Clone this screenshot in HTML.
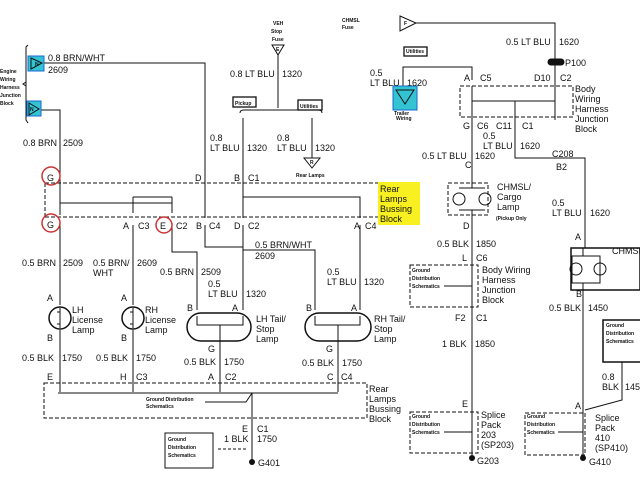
<!DOCTYPE html>
<html><head><meta charset="utf-8"><style>
html,body{margin:0;padding:0;background:#fff;}
svg{display:block;}
text{font-family:"Liberation Sans",sans-serif;font-size:9px;fill:#111;}
.s text{font-size:5px;font-weight:bold;}
</style></head><body>
<svg width="640" height="480" viewBox="0 0 640 480" xmlns="http://www.w3.org/2000/svg">
<g stroke="#111" stroke-width="1" fill="none">
<path d="M28,45 L26,47 L26,120 L28,123"/>
<path d="M26,82 L23,84 L26,86"/>
<path d="M44,63 H205 V218"/>
<path d="M41,110 H60 V215"/>
<path d="M45,183 H380 M45,217 H380 M45,183 V217" stroke-dasharray="4,2"/>
<path d="M60,203 H172 M133,197 H172 M133,197 V213 M172,197 V213"/>
<path d="M243,197 H360 V218"/>
<path d="M243,118 V218"/>
<path d="M278,55 V108 M240,113 Q240,110 244,110 H318 Q322,110 322,113"/>
<path d="M312,118 V158"/>
<path d="M272,45 H284 L278,55 Z"/>
<path d="M304,158 H320 L312,168 Z"/>
<rect x="233" y="97" width="23" height="10" stroke-width="1.3"/>
<rect x="298" y="100" width="24" height="10" stroke-width="1.3"/>
<path d="M60,225 V305 M60,330 V392"/>
<path d="M133,225 V305 M133,330 V392"/>
<path d="M172,225 V252 H197 V310"/>
<path d="M243,225 V310"/>
<path d="M205,225 V247 H243 M243,250 H315 V310"/>
<path d="M360,225 V310"/>
<circle cx="60" cy="318" r="11" stroke-width="1.5"/>
<circle cx="133" cy="318" r="11" stroke-width="1.5"/>
<path d="M60,308 V312 H57 M60,312 V324 H57 M60,324 V328 M133,308 V312 H130 M133,312 V324 H130 M133,324 V328"/>
<rect x="187" y="313" width="64" height="28" rx="14" stroke-width="1.5"/>
<rect x="305" y="313" width="66" height="28" rx="14" stroke-width="1.5"/>
<path d="M197,316 V325 H243 V316 M220,325 V345"/>
<path d="M315,316 V325 H360 V316 M338,325 V345"/>
<path d="M220,345 V392 M338,345 V392"/>
<path d="M44,383 H367 V418 H44 Z" stroke-dasharray="4,2"/>
<path d="M58,393 H338 M252,393 V460 M252,393 L246,402 H205"/>
<rect x="165" y="433" width="48" height="35"/>
<path d="M218,449 H248" stroke-dasharray="3,2"/>
<path d="M400,16 L416,23 L400,31 Z"/>
<path d="M416,23 H555 V120"/>
<rect x="548" y="59" width="16" height="6" rx="3" fill="#111"/>
<path d="M460,86 H573 V117 H460 Z" stroke-dasharray="4,2"/>
<path d="M472,101 H555 M515,101 V158 H585 V248"/>
<path d="M403,87 V67 H472 V80"/>
<path d="M472,86 V170"/>
<rect x="404" y="47" width="23" height="9" stroke-width="1.3"/>
<path d="M448,183 H488 V215 H448 Z" stroke-dasharray="4,2"/>
<path d="M472,170 V188 M459,188 H485 M459,210 H485 M472,210 V258"/>
<circle cx="459" cy="199" r="6"/><circle cx="485" cy="199" r="6"/>
<path d="M410,265 H478 V307 H410 Z" stroke-dasharray="4,2"/>
<path d="M472,258 V455 M444,286 H472 M444,432 H472"/>
<path d="M410,412 H478 V453 H410 Z" stroke-dasharray="4,2"/>
<rect x="571" y="248" width="69" height="42" stroke-width="1.5"/>
<path d="M583,248 V256 H572 V283 H583 M583,256 H600 V283 H583 M583,283 V460"/>
<circle cx="576" cy="269" r="6"/><circle cx="600" cy="269" r="6"/>
<rect x="603" y="320" width="40" height="42" stroke-width="1.5"/>
<path d="M622,362 V400 L585,410"/>
<path d="M525,413 H585 V455 H525 Z" stroke-dasharray="4,2"/>
<path d="M558,432 H583"/>
<g stroke="#c33" stroke-width="1.5">
<circle cx="51" cy="176" r="9"/><circle cx="51" cy="223" r="9"/><circle cx="164" cy="225" r="8"/>
</g>
</g>
<rect x="28" y="56" width="16" height="15" fill="#33c3d3" stroke="#1a6ad0"/>
<path d="M31,58 L42,63 L31,69 Z" fill="none" stroke="#111"/>
<rect x="27" y="101" width="14" height="15" fill="#33c3d3" stroke="#1a6ad0"/>
<path d="M29,103 L39,109 L29,115 Z" fill="none" stroke="#111"/>
<rect x="393" y="86" width="24" height="24" fill="#33c3d3" stroke="#1a6ad0"/>
<path d="M396,90 H414 L405,104 Z" fill="none" stroke="#111"/>
<rect x="378" y="182" width="42" height="43" fill="#f8f020"/>
<g fill="#111"><circle cx="252" cy="462" r="3"/><circle cx="472" cy="458" r="3"/><circle cx="583" cy="458" r="3"/></g>
<g class="s"><text x="0" y="73">Engine</text><text x="0" y="81">Wiring</text><text x="0" y="89">Harness</text><text x="0" y="97">Junction</text><text x="0" y="105">Block</text>
<text x="273" y="25">VEH</text><text x="271" y="33">Stop</text><text x="272" y="41">Fuse</text>
<text x="235" y="105">Pickup</text><text x="300" y="108">Utilities</text><text x="296" y="177">Rear Lamps</text>
<text x="146" y="401">Ground Distribution</text><text x="146" y="408">Schematics</text>
<text x="168" y="441">Ground</text><text x="168" y="449">Distribution</text><text x="168" y="457">Schematics</text>
<text x="342" y="22">CHMSL</text><text x="342" y="29">Fuse</text><text x="406" y="53">Utilities</text>
<text x="394" y="115">Trailer</text><text x="396" y="120">Wiring</text><text x="496" y="220">(Pickup Only</text>
<text x="412" y="272">Ground</text><text x="412" y="280">Distribution</text><text x="412" y="288">Schematics</text>
<text x="412" y="418">Ground</text><text x="412" y="426">Distribution</text><text x="412" y="434">Schematics</text>
<text x="527" y="418">Ground</text><text x="527" y="426">Distribution</text><text x="527" y="434">Schematics</text>
<text x="606" y="327">Ground</text><text x="606" y="335">Distribution</text><text x="606" y="343">Schematics</text>
<text x="35" y="66">N</text><text x="30" y="111">N</text><text x="276" y="51">E</text><text x="310" y="164">R</text><text x="404" y="25">F</text>
</g>
<g>
<text x="48" y="61">0.8 BRN/WHT</text><text x="48" y="73">2609</text>
<text x="23" y="146">0.8 BRN</text><text x="63" y="146">2509</text>
<text x="230" y="77">0.8 LT BLU</text><text x="282" y="77">1320</text>
<text x="210" y="141">0.8</text><text x="210" y="151">LT BLU</text><text x="247" y="151">1320</text>
<text x="277" y="141">0.8</text><text x="277" y="151">LT BLU</text><text x="315" y="151">1320</text>
<text x="47" y="181">G</text><text x="47" y="228">G</text>
<text x="195" y="181">D</text><text x="234" y="181">B</text><text x="248" y="181">C1</text>
<text x="123" y="229">A</text><text x="138" y="229">C3</text><text x="160" y="229">E</text><text x="176" y="229">C2</text>
<text x="196" y="229">B</text><text x="209" y="229">C4</text><text x="234" y="229">D</text><text x="248" y="229">C2</text>
<text x="354" y="229">A</text><text x="365" y="229">C4</text>
<text x="380" y="192">Rear</text><text x="380" y="202">Lamps</text><text x="380" y="212">Bussing</text><text x="380" y="222">Block</text>
<text x="22" y="266">0.5 BRN</text><text x="63" y="266">2509</text>
<text x="93" y="266">0.5 BRN/</text><text x="93" y="276">WHT</text><text x="137" y="266">2609</text>
<text x="160" y="275">0.5 BRN</text><text x="201" y="275">2509</text>
<text x="255" y="248">0.5 BRN/WHT</text><text x="255" y="259">2609</text>
<text x="208" y="287">0.5</text><text x="208" y="297">LT BLU</text><text x="246" y="297">1320</text>
<text x="327" y="275">0.5</text><text x="327" y="285">LT BLU</text><text x="364" y="285">1320</text>
<text x="47" y="301">A</text><text x="121" y="301">A</text><text x="187" y="311">B</text><text x="232" y="311">A</text><text x="306" y="311">B</text><text x="351" y="311">A</text>
<text x="72" y="313">LH</text><text x="72" y="323">License</text><text x="72" y="333">Lamp</text>
<text x="145" y="313">RH</text><text x="145" y="323">License</text><text x="145" y="333">Lamp</text>
<text x="256" y="322">LH Tail/</text><text x="256" y="332">Stop</text><text x="256" y="342">Lamp</text>
<text x="374" y="322">RH Tail/</text><text x="374" y="332">Stop</text><text x="374" y="342">Lamp</text>
<text x="47" y="341">B</text><text x="121" y="341">B</text><text x="208" y="352">G</text><text x="326" y="352">G</text>
<text x="22" y="361">0.5 BLK</text><text x="62" y="361">1750</text><text x="96" y="361">0.5 BLK</text><text x="136" y="361">1750</text>
<text x="184" y="365">0.5 BLK</text><text x="224" y="365">1750</text><text x="302" y="366">0.5 BLK</text><text x="342" y="366">1750</text>
<text x="47" y="380">E</text><text x="120" y="380">H</text><text x="136" y="380">C3</text><text x="208" y="380">A</text><text x="225" y="380">C2</text>
<text x="327" y="380">C</text><text x="341" y="380">C4</text>
<text x="369" y="392">Rear</text><text x="369" y="402">Lamps</text><text x="369" y="412">Bussing</text><text x="369" y="422">Block</text>
<text x="242" y="432">E</text><text x="257" y="432">C1</text><text x="224" y="442">1 BLK</text><text x="257" y="442">1750</text>
<text x="258" y="466">G401</text>
<text x="506" y="45">0.5 LT BLU</text><text x="559" y="45">1620</text><text x="565" y="66">P100</text>
<text x="370" y="76">0.5</text><text x="370" y="86">LT BLU</text><text x="407" y="86">1620</text>
<text x="464" y="81">A</text><text x="480" y="81">C5</text><text x="534" y="81">D10</text><text x="560" y="81">C2</text>
<text x="575" y="92">Body</text><text x="575" y="102">Wiring</text><text x="575" y="112">Harness</text><text x="575" y="122">Junction</text><text x="575" y="132">Block</text>
<text x="463" y="129">G</text><text x="477" y="129">C6</text><text x="496" y="129">C11</text><text x="522" y="129">C1</text>
<text x="483" y="139">0.5</text><text x="483" y="149">LT BLU</text><text x="520" y="149">1620</text>
<text x="422" y="159">0.5 LT BLU</text><text x="475" y="159">1620</text>
<text x="552" y="157">C208</text><text x="556" y="170">B2</text>
<text x="465" y="168">C</text>
<text x="497" y="190">CHMSL/</text><text x="497" y="200">Cargo</text><text x="497" y="210">Lamp</text>
<text x="552" y="206">0.5</text><text x="552" y="216">LT BLU</text><text x="590" y="216">1620</text>
<text x="463" y="229">D</text><text x="575" y="240">A</text>
<text x="437" y="247">0.5 BLK</text><text x="476" y="247">1850</text>
<text x="462" y="261">L</text><text x="476" y="261">C6</text><text x="612" y="254">CHMSL</text>
<text x="482" y="273">Body Wiring</text><text x="482" y="283">Harness</text><text x="482" y="293">Junction</text><text x="482" y="303">Block</text>
<text x="576" y="297">B</text><text x="549" y="311">0.5 BLK</text><text x="588" y="311">1450</text>
<text x="455" y="321">F2</text><text x="476" y="321">C1</text><text x="442" y="347">1 BLK</text><text x="475" y="347">1850</text>
<text x="602" y="380">0.8</text><text x="602" y="390">BLK</text><text x="625" y="390">1450</text>
<text x="462" y="407">E</text><text x="575" y="409">A</text>
<text x="481" y="418">Splice</text><text x="481" y="428">Pack</text><text x="481" y="438">203</text><text x="481" y="448">(SP203)</text>
<text x="595" y="421">Splice</text><text x="595" y="431">Pack</text><text x="595" y="441">410</text><text x="595" y="451">(SP410)</text>
<text x="477" y="464">G203</text><text x="589" y="465">G410</text>
</g>
</svg>
</body></html>
